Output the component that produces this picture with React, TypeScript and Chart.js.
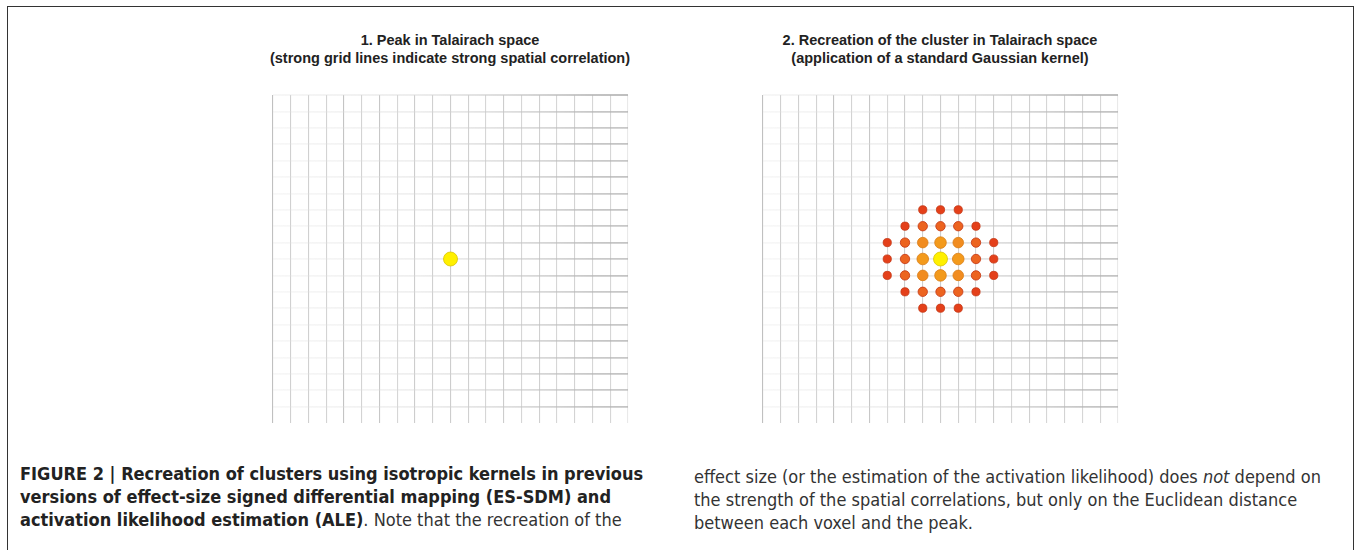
import React, { useEffect, useRef } from "react";
import { Chart, registerables } from "chart.js";

Chart.register(...registerables);

// ---------- data ----------
const GRID_MIN = 0;
const GRID_MAX = 20;

// strength of each vertical grid line (left -> right)
const V_LINE_STRENGTH = [0.8, 0.55, 0.55, 0.5, 0.75, 0.5, 0.7, 0.45, 0.6, 0.55, 0.6, 0.55, 0.45, 0.6, 0.45, 0.55, 0.45, 0.5, 0.45, 0.45, 0.15];
// strength of each horizontal grid line (bottom -> top)
const H_LINE_STRENGTH = [0.0, 0.75, 0.7, 0.75, 0.7, 0.75, 0.7, 0.75, 0.7, 0.75, 0.7, 0.75, 0.7, 0.75, 0.7, 0.75, 0.7, 0.75, 0.7, 0.75, 0.8];

// peak (panel 1)
const PEAK_X = [10];
const PEAK_Y = [10];

// recreated cluster (panel 2): voxel positions and kernel values
const CLUSTER_X = [
  9, 10, 11,
  8, 9, 10, 11, 12,
  7, 8, 9, 10, 11, 12, 13,
  7, 8, 9, 10, 11, 12, 13,
  7, 8, 9, 10, 11, 12, 13,
  8, 9, 10, 11, 12,
  9, 10, 11,
];
const CLUSTER_Y = [
  13, 13, 13,
  12, 12, 12, 12, 12,
  11, 11, 11, 11, 11, 11, 11,
  10, 10, 10, 10, 10, 10, 10,
  9, 9, 9, 9, 9, 9, 9,
  8, 8, 8, 8, 8,
  7, 7, 7,
];
const CLUSTER_VALUE = [
  0.25, 0.3, 0.25,
  0.35, 0.5, 0.55, 0.5, 0.35,
  0.25, 0.5, 0.7, 0.8, 0.7, 0.5, 0.25,
  0.3, 0.55, 0.8, 1.0, 0.8, 0.55, 0.3,
  0.25, 0.5, 0.7, 0.8, 0.7, 0.5, 0.25,
  0.35, 0.5, 0.55, 0.5, 0.35,
  0.25, 0.3, 0.25,
];

const TITLE_1 = ["1. Peak in Talairach space", "(strong grid lines indicate strong spatial correlation)"];
const TITLE_2 = ["2. Recreation of the cluster in Talairach space", "(application of a standard Gaussian kernel)"];

// ---------- styling helpers ----------
function colorFor(v: number): string {
  if (v >= 0.95) return "#fff000";
  if (v >= 0.75) return "#f39a1c";
  if (v >= 0.65) return "#f18c20";
  if (v >= 0.45) return "#ec6420";
  return "#e4401a";
}
function borderFor(v: number): string {
  if (v >= 0.95) return "#d9c400";
  if (v >= 0.65) return "#d97c14";
  return "#c43512";
}
function radiusFor(v: number): number {
  if (v >= 0.95) return 7;
  if (v >= 0.75) return 5.8;
  if (v >= 0.65) return 5.3;
  if (v >= 0.45) return 4.7;
  return 4.1;
}

const PAD = 8;
const AREA_W = 355;
const AREA_H = 328;

function makeConfig(points: { x: number; y: number; v: number }[]) {
  return {
    type: "scatter" as const,
    data: {
      datasets: [
        {
          data: points.map((p) => ({ x: p.x, y: p.y })),
          pointRadius: points.map((p) => radiusFor(p.v)),
          pointBackgroundColor: points.map((p) => colorFor(p.v)),
          pointBorderColor: points.map((p) => borderFor(p.v)),
          pointBorderWidth: 0.8,
          pointHoverRadius: points.map((p) => radiusFor(p.v)),
        },
      ],
    },
    options: {
      animation: false,
      responsive: false,
      maintainAspectRatio: false,
      layout: { padding: PAD },
      plugins: { legend: { display: false }, tooltip: { enabled: false }, title: { display: false } },
      scales: {
        x: {
          type: "linear",
          min: GRID_MIN,
          max: GRID_MAX,
          ticks: { display: false, stepSize: 1 },
          border: { display: false },
          grid: {
            drawTicks: false,
            lineWidth: 1.1,
            color: (ctx: any) => {
              const s = V_LINE_STRENGTH[ctx.index] ?? 0.5;
              const g = Math.round(242 - s * 62);
              return `rgb(${g},${g},${g})`;
            },
          },
        },
        y: {
          type: "linear",
          min: GRID_MIN,
          max: GRID_MAX,
          ticks: { display: false, stepSize: 1 },
          border: { display: false },
          grid: {
            drawTicks: false,
            lineWidth: (ctx: any) => {
              const s = H_LINE_STRENGTH[ctx.index] ?? 0.5;
              return s <= 0.01 ? 0 : 0.6 + s * 1.6;
            },
            color: (ctx: any) => {
              const chart = ctx.chart;
              const area = chart.chartArea;
              const s = H_LINE_STRENGTH[ctx.index] ?? 0.5;
              if (!area) return "rgba(210,210,210,1)";
              const grad = chart.ctx.createLinearGradient(area.left, 0, area.right, 0);
              grad.addColorStop(0, `rgba(225,225,225,${0.35 * s})`);
              grad.addColorStop(0.4, `rgba(215,215,215,${0.55 * s})`);
              grad.addColorStop(0.7, `rgba(195,195,195,${0.8 * s})`);
              grad.addColorStop(0.9, `rgba(180,180,180,${s})`);
              grad.addColorStop(1, `rgba(175,175,175,${s})`);
              return grad;
            },
          },
        },
      },
    },
  };
}

function GridChart({ points, left }: { points: { x: number; y: number; v: number }[]; left: number }) {
  const ref = useRef<HTMLCanvasElement | null>(null);
  useEffect(() => {
    if (!ref.current) return;
    const chart = new Chart(ref.current, makeConfig(points) as any);
    return () => chart.destroy();
  }, []);
  return (
    <canvas
      ref={ref}
      width={AREA_W + 2 * PAD}
      height={AREA_H + 2 * PAD}
      style={{ position: "absolute", left: left - PAD, top: 95 - PAD, width: AREA_W + 2 * PAD, height: AREA_H + 2 * PAD }}
    />
  );
}

const titleStyle: React.CSSProperties = {
  position: "absolute",
  top: 31,
  width: 500,
  textAlign: "center",
  fontFamily: "'Liberation Sans', Arial, sans-serif",
  fontWeight: "bold",
  fontSize: 14.5,
  lineHeight: "18px",
  color: "#222",
  whiteSpace: "nowrap",
};

const captionStyle: React.CSSProperties = {
  position: "absolute",
  top: 462,
  fontFamily: "'DejaVu Sans Condensed', 'Liberation Sans Narrow', sans-serif",
  fontSize: 18,
  lineHeight: "23px",
  whiteSpace: "nowrap",
};

export default function App() {
  const peakPoints = PEAK_X.map((x, i) => ({ x, y: PEAK_Y[i], v: 1 }));
  const clusterPoints = CLUSTER_X.map((x, i) => ({ x, y: CLUSTER_Y[i], v: CLUSTER_VALUE[i] }));
  return (
    <div style={{ position: "absolute", left: 0, top: 0, width: 1356, height: 550, overflow: "hidden", background: "#fff" }}>
      <div style={{ position: "absolute", left: 7, top: 6, width: 1345, height: 600, border: "1.5px solid #333" }} />
      <div style={{ ...titleStyle, left: 450 - 250 }}>
        {TITLE_1[0]}
        <br />
        {TITLE_1[1]}
      </div>
      <div style={{ ...titleStyle, left: 940 - 250 }}>
        {TITLE_2[0]}
        <br />
        {TITLE_2[1]}
      </div>
      <GridChart points={peakPoints} left={273} />
      <GridChart points={clusterPoints} left={763} />
      <div style={{ ...captionStyle, left: 20, color: "#222" }}>
        <b>FIGURE 2 | Recreation of clusters using isotropic kernels in previous</b>
        <br />
        <b>versions of effect-size signed differential mapping (ES-SDM) and</b>
        <br />
        <b>activation likelihood estimation (ALE)</b>
        <span style={{ color: "#333" }}>. Note that the recreation of the</span>
      </div>
      <div style={{ ...captionStyle, left: 694, top: 465, color: "#333" }}>
        effect size (or the estimation of the activation likelihood) does <i>not</i> depend on
        <br />
        the strength of the spatial correlations, but only on the Euclidean distance
        <br />
        between each voxel and the peak.
      </div>
    </div>
  );
}
